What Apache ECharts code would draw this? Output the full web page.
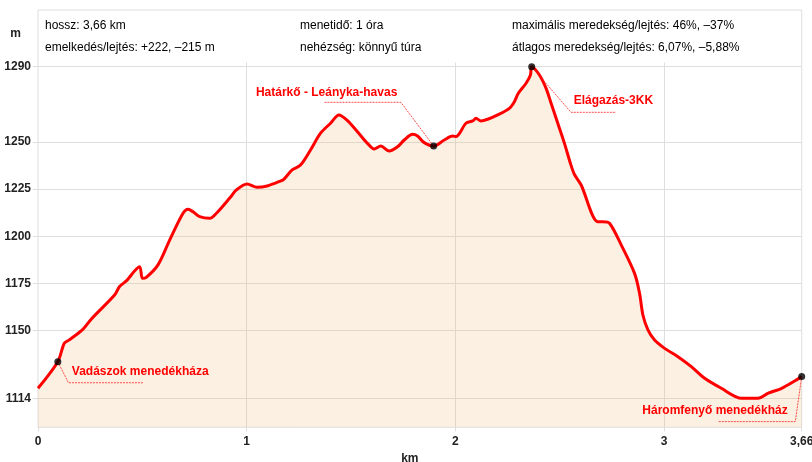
<!DOCTYPE html>
<html>
<head>
<meta charset="utf-8">
<script src="https://cdn.jsdelivr.net/npm/echarts@6/dist/echarts.min.js"></script>
<style>
  html, body { margin: 0; padding: 0; background: #fff; }
  #chart { width: 812px; height: 462px; }
</style>
</head>
<body>
<div id="chart"></div>
<script>
// Elevation profile: distance along the trail (km) and elevation (m)
const distanceKm = [
  0, 0.095, 0.126, 0.15, 0.215, 0.255, 0.367, 0.39, 0.423, 0.487, 0.5, 0.519,
  0.575, 0.631, 0.695, 0.719, 0.743, 0.775, 0.823, 0.855, 0.922, 0.951, 1.002,
  1.05, 1.098, 1.162, 1.178, 1.218, 1.258, 1.306, 1.354, 1.402, 1.442, 1.483,
  1.531, 1.579, 1.611, 1.643, 1.683, 1.723, 1.755, 1.795, 1.819, 1.851, 1.896,
  1.947, 1.987, 2.003, 2.051, 2.083, 2.099, 2.123, 2.155, 2.203, 2.259, 2.283,
  2.302, 2.339, 2.36, 2.366, 2.403, 2.435, 2.459, 2.491, 2.523, 2.555, 2.571,
  2.603, 2.683, 2.707, 2.739, 2.795, 2.859, 2.883, 2.899, 2.923, 2.955, 3.003,
  3.067, 3.131, 3.195, 3.275, 3.372, 3.451, 3.5, 3.564, 3.628, 3.66
];
const elevationM = [
  1119.3, 1133.4, 1143.2, 1145, 1150.6, 1156, 1168.8, 1173.2, 1176.3, 1183.8, 1177.7, 1178.2,
  1184.8, 1198, 1212.2, 1214.3, 1213, 1210.4, 1209.5, 1212.2, 1220.7, 1224.6, 1227.7,
  1226, 1226.7, 1229.3, 1230.2, 1235.2, 1237.8, 1245.8, 1254.7, 1260, 1264.4, 1261.4,
  1255.5, 1249.3, 1246.3, 1247.9, 1245.2, 1247.5, 1251.1, 1254.1, 1253.2, 1249.7, 1247.9,
  1251.1, 1253.2, 1252.9, 1260, 1261.2, 1262.6, 1261.2, 1262.1, 1264.4, 1267.9, 1271.4,
  1275.9, 1281.2, 1285.6, 1290, 1285.6, 1278.5, 1270.6, 1260, 1249.3, 1237.5, 1232.8,
  1227.2, 1207.7, 1207.7, 1206.9, 1195.4, 1180.3, 1169.7, 1158.2, 1150.3, 1144.9, 1140.5,
  1136.1, 1130.8, 1124.6, 1119.3, 1114, 1114, 1116.7, 1119.3, 1123.3, 1125.5
];

// Named waypoints on the trail
const waypointKm = [0.095, 1.896, 2.366, 3.66];
const waypointEle = [1133.4, 1247.9, 1290, 1125.5];
const waypointNames = [
  'Vadászok menedékháza',
  'Határkő - Leányka-havas',
  'Elágazás-3KK',
  'Háromfenyő menedékház'
];

// Axis ticks
const yTicks = [1114, 1150, 1175, 1200, 1225, 1250, 1290];
const xTicks = [0, 1, 2, 3, 3.66];
const xGridKm = [1, 2, 3];

// Trail summary shown in the header
const statsLeft = ['hossz: 3,66 km', 'emelkedés/lejtés: +222, –215 m'];
const statsMid = ['menetidő: 1 óra', 'nehézség: könnyű túra'];
const statsRight = ['maximális meredekség/lejtés: 46%, –37%', 'átlagos meredekség/lejtés: 6,07%, –5,88%'];

// ---- layout & style ----
const FONT = '"Liberation Sans", Arial, sans-serif';
const GRID_COLOR = '#dedede';
const Y_MIN = 1098.6, Y_MAX = 1320.1;
const V_GRID_TOP = 1292.3;

// Leader line geometry relative to each waypoint marker (pixels)
const leaderLayout = [
  { elbow: [10.6, 21], end: [85.6, 21], text: [14, 10.3], align: 'left' },
  { elbow: [-32.7, -43.7], end: [-110, -43.7], text: [-177.7, -53.7], align: 'left' },
  { elbow: [39.3, 45.6], end: [84.3, 45.6], text: [42, 34.3], align: 'left' },
  { elbow: [-6.4, 45], end: [-84, 45], text: [-14, 34.3], align: 'right' }
];

const commaNum = v => String(v).replace('.', ',');

const chart = echarts.init(document.getElementById('chart'), null, { renderer: 'canvas' });

const profile = distanceKm.map((d, i) => [d, elevationM[i]]);
const waypoints = waypointKm.map((d, i) => ({ value: [d, waypointEle[i]], name: waypointNames[i] }));

chart.setOption({
  animation: false,
  textStyle: { fontFamily: FONT },
  grid: {
    left: 38, right: 10.3, top: 10, bottom: 34.7,
    outerBoundsMode: 'none',
    containLabel: false,
    show: true, borderColor: GRID_COLOR, borderWidth: 1, backgroundColor: 'transparent'
  },
  xAxis: {
    type: 'value',
    min: 0, max: 3.66,
    name: 'km',
    nameLocation: 'middle',
    nameGap: 24,
    nameTextStyle: { fontFamily: FONT, fontSize: 12, fontWeight: 'bold', color: '#222', padding: [0, 20, 0, 0] },
    axisLine: { show: false },
    axisTick: { show: true, length: 4, lineStyle: { color: GRID_COLOR }, customValues: xTicks },
    axisLabel: {
      customValues: xTicks, margin: 8,
      fontFamily: FONT, fontSize: 12, fontWeight: 'bold', color: '#222',
      formatter: commaNum
    },
    splitLine: { show: false }
  },
  yAxis: {
    type: 'value',
    min: Y_MIN, max: Y_MAX,
    name: 'm',
    nameLocation: 'end',
    nameGap: -30,
    nameTextStyle: { fontFamily: FONT, fontSize: 12, fontWeight: 'bold', color: '#222', align: 'right', padding: [0, 17, 0, 0] },
    axisLine: { show: false },
    axisTick: { show: true, length: 5, lineStyle: { color: GRID_COLOR }, customValues: yTicks },
    axisLabel: {
      customValues: yTicks, margin: 7,
      fontFamily: FONT, fontSize: 12, fontWeight: 'bold', color: '#222',
      formatter: v => String(v)
    },
    splitLine: { show: true, lineStyle: { color: GRID_COLOR, width: 1 } }
  },
  series: [
    {
      // vertical km grid lines, kept beneath the profile
      type: 'line',
      data: [],
      silent: true,
      z: 0,
      markLine: {
        silent: true,
        z: 0,
        symbol: 'none',
        label: { show: false },
        lineStyle: { color: GRID_COLOR, type: 'solid', width: 1 },
        data: xGridKm.map(k => [{ coord: [k, Y_MIN] }, { coord: [k, V_GRID_TOP] }])
      }
    },
    {
      type: 'line',
      data: profile,
      smooth: 0.3,
      showSymbol: false,
      lineStyle: { color: '#ff0000', width: 3 },
      areaStyle: { color: 'rgba(235,185,120,0.3)', origin: 'start' },
      z: 2
    },
    {
      type: 'scatter',
      data: waypoints,
      symbol: 'circle',
      symbolSize: 7,
      itemStyle: { color: '#000' },
      z: 5
    }
  ]
});

// Header text and waypoint annotations
function drawOverlay() {
  const g = [];
  const cols = [[45, statsLeft], [300, statsMid], [512, statsRight]];
  cols.forEach(([x, lines]) => {
    lines.forEach((t, i) => {
      g.push({
        type: 'text', x: x, y: i === 0 ? 26 : 48, silent: true,
        style: { text: t, fill: '#000', font: '12px ' + FONT, textVerticalAlign: 'middle' }
      });
    });
  });
  waypoints.forEach((wp, i) => {
    const p = chart.convertToPixel({ gridIndex: 0 }, wp.value);
    const L = leaderLayout[i];
    g.push({
      type: 'polyline', silent: true, z: 4,
      shape: { points: [p, [p[0] + L.elbow[0], p[1] + L.elbow[1]], [p[0] + L.end[0], p[1] + L.end[1]]] },
      style: { stroke: '#ff2020', lineWidth: 1, lineDash: [2, 1], fill: null, opacity: 0.8 }
    });
    g.push({
      type: 'text', silent: true, z: 6,
      x: p[0] + L.text[0], y: p[1] + L.text[1],
      style: {
        text: wp.name, fill: '#ff0000', font: 'bold 12px ' + FONT,
        textAlign: L.align, textVerticalAlign: 'middle'
      }
    });
  });
  chart.setOption({ graphic: g });
}
drawOverlay();
</script>
</body>
</html>
